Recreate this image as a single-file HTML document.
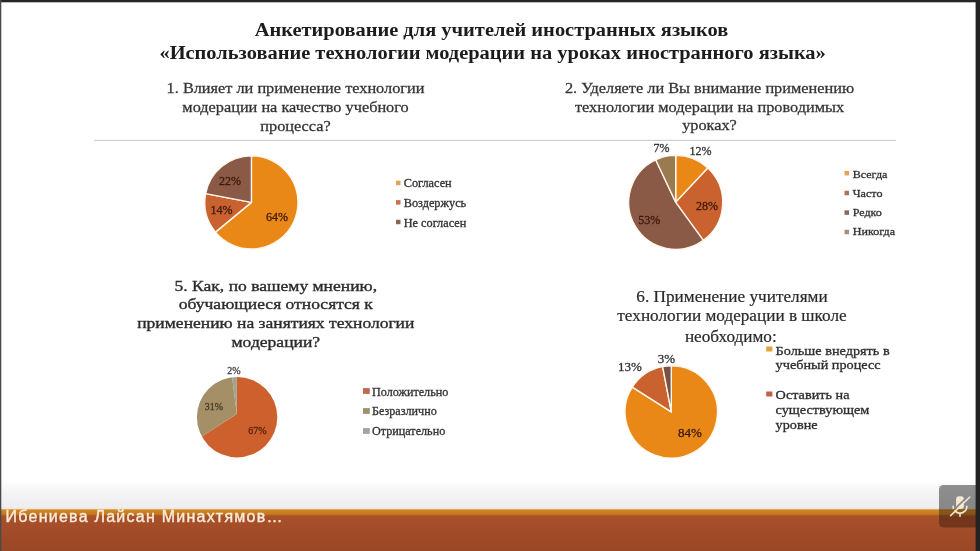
<!DOCTYPE html>
<html lang="ru"><head><meta charset="utf-8"><title>Анкетирование</title>
<style>html,body{margin:0;padding:0;background:#fff;width:980px;height:551px;overflow:hidden}</style>
</head><body>
<svg width="980" height="551" viewBox="0 0 980 551" style="display:block;position:absolute;left:0;top:0">
<rect x="0" y="0" width="980" height="551" fill="#fff"/>
<defs>
<linearGradient id="gg" x1="0" y1="0" x2="0" y2="1"><stop offset="0" stop-color="#ffffff"/><stop offset="0.45" stop-color="#f4f4f5"/><stop offset="1" stop-color="#ecedef"/></linearGradient>
<linearGradient id="gb" x1="0" y1="0" x2="0" y2="1"><stop offset="0" stop-color="#A9502A"/><stop offset="1" stop-color="#994725"/></linearGradient>
</defs>
<rect x="0" y="480" width="980" height="29" fill="url(#gg)"/>
<rect x="0" y="508" width="980" height="1.5" fill="#f6e6cf"/>
<linearGradient id="gs" x1="0" y1="0" x2="0" y2="1"><stop offset="0" stop-color="#D08A2A"/><stop offset="0.6" stop-color="#C67A22"/><stop offset="1" stop-color="#B8661E"/></linearGradient>
<rect x="0" y="509.3" width="980" height="7" fill="url(#gs)"/>
<rect x="0" y="515.5" width="980" height="36" fill="url(#gb)"/>
<rect x="0" y="515.0" width="980" height="1.4" fill="#AE5A22"/>
<text transform="translate(491.5,36.1) scale(1.1049,1)" font-family="'Liberation Serif', serif" font-size="18.5" font-weight="bold" text-anchor="middle" fill="#1c1c1c">Анкетирование для учителей иностранных языков</text>
<text transform="translate(492.6,59.35) scale(1.1049,1)" font-family="'Liberation Serif', serif" font-size="18.5" font-weight="bold" text-anchor="middle" fill="#1c1c1c">«Использование технологии модерации на уроках иностранного языка»</text>
<text transform="translate(295.5,93.4) scale(1.1241379310344828,1)" font-family="'Liberation Serif', serif" font-size="14.5" font-weight="normal" text-anchor="middle" fill="#333" stroke="#333" stroke-width="0.25">1. Влияет ли применение технологии</text>
<text transform="translate(295.5,112.0) scale(1.1241379310344828,1)" font-family="'Liberation Serif', serif" font-size="14.5" font-weight="normal" text-anchor="middle" fill="#333" stroke="#333" stroke-width="0.25">модерации на качество учебного</text>
<text transform="translate(295.5,131.2) scale(1.1241379310344828,1)" font-family="'Liberation Serif', serif" font-size="14.5" font-weight="normal" text-anchor="middle" fill="#333" stroke="#333" stroke-width="0.25">процесса?</text>
<text transform="translate(709.5,92.9) scale(1.0866666666666667,1)" font-family="'Liberation Serif', serif" font-size="15.0" font-weight="normal" text-anchor="middle" fill="#333" stroke="#333" stroke-width="0.25">2. Уделяете ли Вы внимание применению</text>
<text transform="translate(709.5,112.0) scale(1.0866666666666667,1)" font-family="'Liberation Serif', serif" font-size="15.0" font-weight="normal" text-anchor="middle" fill="#333" stroke="#333" stroke-width="0.25">технологии модерации на проводимых</text>
<text transform="translate(709.5,129.5) scale(1.0866666666666667,1)" font-family="'Liberation Serif', serif" font-size="15.0" font-weight="normal" text-anchor="middle" fill="#333" stroke="#333" stroke-width="0.25">уроках?</text>
<rect x="94" y="139.8" width="802" height="1.2" fill="#cfcfcf"/>
<text transform="translate(275.8,291) scale(1.1858,1)" font-family="'Liberation Serif', serif" font-size="14.8" font-weight="normal" text-anchor="middle" fill="#2c2c2c" stroke="#2c2c2c" stroke-width="0.35">5. Как, по вашему мнению,</text>
<text transform="translate(275.8,309.4) scale(1.1858,1)" font-family="'Liberation Serif', serif" font-size="14.8" font-weight="normal" text-anchor="middle" fill="#2c2c2c" stroke="#2c2c2c" stroke-width="0.35">обучающиеся относятся к</text>
<text transform="translate(275.8,327.8) scale(1.1858,1)" font-family="'Liberation Serif', serif" font-size="14.8" font-weight="normal" text-anchor="middle" fill="#2c2c2c" stroke="#2c2c2c" stroke-width="0.35">применению на занятиях технологии</text>
<text transform="translate(275.8,347.3) scale(1.1858,1)" font-family="'Liberation Serif', serif" font-size="14.8" font-weight="normal" text-anchor="middle" fill="#2c2c2c" stroke="#2c2c2c" stroke-width="0.35">модерации?</text>
<text transform="translate(732,301.7) scale(1.075,1)" font-family="'Liberation Serif', serif" font-size="16.0" font-weight="normal" text-anchor="middle" fill="#2a2a2a" stroke="#2a2a2a" stroke-width="0.2">6. Применение учителями</text>
<text transform="translate(732,321.3) scale(1.075,1)" font-family="'Liberation Serif', serif" font-size="16.0" font-weight="normal" text-anchor="middle" fill="#2a2a2a" stroke="#2a2a2a" stroke-width="0.2">технологии модерации в школе</text>
<text transform="translate(730.8,341.5) scale(1.075,1)" font-family="'Liberation Serif', serif" font-size="16.0" font-weight="normal" text-anchor="middle" fill="#2a2a2a" stroke="#2a2a2a" stroke-width="0.2">необходимо:</text>
<path d="M251.40,202.40 L251.40,155.80 A46.6,46.6 0 1 1 215.49,232.10 Z" fill="#E98816" stroke="#fff6ec" stroke-width="1.4" stroke-linejoin="round"/>
<path d="M251.40,202.40 L215.49,232.10 A46.6,46.6 0 0 1 205.63,193.67 Z" fill="#C9622F" stroke="#fff6ec" stroke-width="1.4" stroke-linejoin="round"/>
<path d="M251.40,202.40 L205.63,193.67 A46.6,46.6 0 0 1 251.40,155.80 Z" fill="#8A5A46" stroke="#fff6ec" stroke-width="1.4" stroke-linejoin="round"/>
<path d="M675.70,202.30 L675.70,155.30 A47.0,47.0 0 0 1 707.87,168.04 Z" fill="#E98816" stroke="#fff6ec" stroke-width="1.4" stroke-linejoin="round"/>
<path d="M675.70,202.30 L707.87,168.04 A47.0,47.0 0 0 1 703.33,240.32 Z" fill="#C9622F" stroke="#fff6ec" stroke-width="1.4" stroke-linejoin="round"/>
<path d="M675.70,202.30 L703.33,240.32 A47.0,47.0 0 1 1 655.69,159.77 Z" fill="#8A5A46" stroke="#fff6ec" stroke-width="1.4" stroke-linejoin="round"/>
<path d="M675.70,202.30 L655.69,159.77 A47.0,47.0 0 0 1 675.70,155.30 Z" fill="#9A7A4E" stroke="#fff6ec" stroke-width="1.4" stroke-linejoin="round"/>
<clipPath id="c5"><circle cx="237.1" cy="417.2" r="40.2"/></clipPath>
<g clip-path="url(#c5)"><path d="M236.80,414.00 L236.80,344.00 A70,70 0 1 1 177.93,451.88 Z" fill="#CE602D"/>
<path d="M236.80,414.00 L177.93,451.88 A70,70 0 0 1 228.03,344.55 Z" fill="#A58F67"/>
<path d="M236.80,414.00 L228.03,344.55 A70,70 0 0 1 236.80,344.00 Z" fill="#9EA48E"/></g>
<path d="M671.30,411.90 L671.30,365.70 A46.2,46.2 0 1 1 632.29,387.14 Z" fill="#E98816" stroke="#fff6ec" stroke-width="1.4" stroke-linejoin="round"/>
<path d="M671.30,411.90 L632.29,387.14 A46.2,46.2 0 0 1 662.64,366.52 Z" fill="#C9622F" stroke="#fff6ec" stroke-width="1.4" stroke-linejoin="round"/>
<path d="M671.30,411.90 L662.64,366.52 A46.2,46.2 0 0 1 671.30,365.70 Z" fill="#7A5242" stroke="#fff6ec" stroke-width="1.4" stroke-linejoin="round"/>
<text x="276.9" y="220.9" font-family="'Liberation Serif', serif" font-size="12" font-weight="normal" text-anchor="middle" fill="#3e1a0e" stroke="#3e1a0e" stroke-width="0.3">64%</text>
<text x="221.4" y="213.7" font-family="'Liberation Serif', serif" font-size="12" font-weight="normal" text-anchor="middle" fill="#3e1a0e" stroke="#3e1a0e" stroke-width="0.3">14%</text>
<text x="230" y="185.4" font-family="'Liberation Serif', serif" font-size="12" font-weight="normal" text-anchor="middle" fill="#3e1a0e" stroke="#3e1a0e" stroke-width="0.3">22%</text>
<text x="661.6" y="151.6" font-family="'Liberation Serif', serif" font-size="12" font-weight="normal" text-anchor="middle" fill="#333" stroke="#333" stroke-width="0.3">7%</text>
<text x="700.4" y="154.7" font-family="'Liberation Serif', serif" font-size="12" font-weight="normal" text-anchor="middle" fill="#333" stroke="#333" stroke-width="0.3">12%</text>
<text x="706.9" y="209.8" font-family="'Liberation Serif', serif" font-size="12" font-weight="normal" text-anchor="middle" fill="#3e1a0e" stroke="#3e1a0e" stroke-width="0.3">28%</text>
<text x="649.2" y="223.5" font-family="'Liberation Serif', serif" font-size="12" font-weight="normal" text-anchor="middle" fill="#3e1a0e" stroke="#3e1a0e" stroke-width="0.3">53%</text>
<text x="233.8" y="374.4" font-family="'Liberation Serif', serif" font-size="10" font-weight="normal" text-anchor="middle" fill="#444" stroke="#444" stroke-width="0.3">2%</text>
<text x="213.8" y="409.7" font-family="'Liberation Serif', serif" font-size="10" font-weight="normal" text-anchor="middle" fill="#4a3c26" stroke="#4a3c26" stroke-width="0.3">31%</text>
<text x="257.5" y="433.6" font-family="'Liberation Serif', serif" font-size="10" font-weight="normal" text-anchor="middle" fill="#5a2410" stroke="#5a2410" stroke-width="0.3">67%</text>
<text x="666.4" y="362.8" font-family="'Liberation Serif', serif" font-size="13" font-weight="normal" text-anchor="middle" fill="#333" stroke="#333" stroke-width="0.3">3%</text>
<text x="629.8" y="371.1" font-family="'Liberation Serif', serif" font-size="13" font-weight="normal" text-anchor="middle" fill="#333" stroke="#333" stroke-width="0.3">13%</text>
<text x="689.9" y="436.8" font-family="'Liberation Serif', serif" font-size="13" font-weight="normal" text-anchor="middle" fill="#3e1a0e" stroke="#3e1a0e" stroke-width="0.3">84%</text>
<rect x="396" y="180.65" width="4.5" height="4.5" fill="#E3A356"/>
<text transform="translate(403.7,186.9) scale(1.0638,1)" font-family="'Liberation Serif', serif" font-size="11.56" font-weight="normal" text-anchor="start" fill="#333" stroke="#333" stroke-width="0.3">Согласен</text>
<rect x="396" y="200.15" width="4.5" height="4.5" fill="#C9704A"/>
<text transform="translate(403.7,207.3) scale(1.0638,1)" font-family="'Liberation Serif', serif" font-size="11.56" font-weight="normal" text-anchor="start" fill="#333" stroke="#333" stroke-width="0.3">Воздержусь</text>
<rect x="396" y="219.75" width="4.5" height="4.5" fill="#8A6556"/>
<text transform="translate(403.7,226.9) scale(1.0638,1)" font-family="'Liberation Serif', serif" font-size="11.56" font-weight="normal" text-anchor="start" fill="#333" stroke="#333" stroke-width="0.3">Не согласен</text>
<rect x="844.5" y="170.95" width="4.5" height="4.5" fill="#E3A356"/>
<text transform="translate(852.7,177.8) scale(1.0638,1)" font-family="'Liberation Serif', serif" font-size="11.37" font-weight="normal" text-anchor="start" fill="#333" stroke="#333" stroke-width="0.3">Всегда</text>
<rect x="844.5" y="190.75" width="4.5" height="4.5" fill="#B0705A"/>
<text transform="translate(852.7,196.8) scale(1.0638,1)" font-family="'Liberation Serif', serif" font-size="11.37" font-weight="normal" text-anchor="start" fill="#333" stroke="#333" stroke-width="0.3">Часто</text>
<rect x="844.5" y="210.35" width="4.5" height="4.5" fill="#8A6A60"/>
<text transform="translate(852.7,216.3) scale(1.0638,1)" font-family="'Liberation Serif', serif" font-size="11.37" font-weight="normal" text-anchor="start" fill="#333" stroke="#333" stroke-width="0.3">Редко</text>
<rect x="844.5" y="229.75" width="4.5" height="4.5" fill="#A39080"/>
<text transform="translate(852.7,235.3) scale(1.0638,1)" font-family="'Liberation Serif', serif" font-size="11.37" font-weight="normal" text-anchor="start" fill="#333" stroke="#333" stroke-width="0.3">Никогда</text>
<rect x="363" y="388.1" width="6.8" height="5.8" fill="#C06A4C"/>
<text x="372" y="396.1" font-family="'Liberation Serif', serif" font-size="12.15" font-weight="normal" text-anchor="start" fill="#333" stroke="#333" stroke-width="0.3">Положительно</text>
<rect x="363" y="408.1" width="6.8" height="5.8" fill="#9E926E"/>
<text x="372" y="415.4" font-family="'Liberation Serif', serif" font-size="12.15" font-weight="normal" text-anchor="start" fill="#333" stroke="#333" stroke-width="0.3">Безразлично</text>
<rect x="363" y="428.1" width="6.8" height="5.8" fill="#A4A49A"/>
<text x="372" y="434.6" font-family="'Liberation Serif', serif" font-size="12.15" font-weight="normal" text-anchor="start" fill="#333" stroke="#333" stroke-width="0.3">Отрицательно</text>
<rect x="766.2" y="346.5" width="6.2" height="5" fill="#E3A040"/>
<text transform="translate(775.6,355) scale(1.0766,1)" font-family="'Liberation Serif', serif" font-size="13.25" font-weight="normal" text-anchor="start" fill="#2e2e2e" stroke="#2e2e2e" stroke-width="0.3">Больше внедрять в</text>
<rect x="766.2" y="391.5" width="6.2" height="5" fill="#C4604A"/>
<text transform="translate(775.6,399.3) scale(1.0766,1)" font-family="'Liberation Serif', serif" font-size="13.25" font-weight="normal" text-anchor="start" fill="#2e2e2e" stroke="#2e2e2e" stroke-width="0.3">Оставить на</text>
<text transform="translate(775.6,369) scale(1.0766,1)" font-family="'Liberation Serif', serif" font-size="13.25" font-weight="normal" text-anchor="start" fill="#2e2e2e" stroke="#2e2e2e" stroke-width="0.3">учебный процесс</text>
<text transform="translate(775.6,414.3) scale(1.0766,1)" font-family="'Liberation Serif', serif" font-size="13.25" font-weight="normal" text-anchor="start" fill="#2e2e2e" stroke="#2e2e2e" stroke-width="0.3">существующем</text>
<text transform="translate(775.6,428.9) scale(1.0766,1)" font-family="'Liberation Serif', serif" font-size="13.25" font-weight="normal" text-anchor="start" fill="#2e2e2e" stroke="#2e2e2e" stroke-width="0.3">уровне</text>
<text x="5.5" y="522.4" font-family="'Liberation Sans', sans-serif" font-size="16" font-weight="normal" text-anchor="start" fill="#f8ebd9" stroke="#f8ebd9" stroke-width="0.4" letter-spacing="1.25">Ибениева Лайсан Минахтямов…</text>
<linearGradient id="go" gradientUnits="userSpaceOnUse" x1="0" y1="485" x2="0" y2="527.5"><stop offset="0" stop-color="#000" stop-opacity="0.43"/><stop offset="0.55" stop-color="#000" stop-opacity="0.43"/><stop offset="0.62" stop-color="#000" stop-opacity="0.33"/><stop offset="1" stop-color="#000" stop-opacity="0.30"/></linearGradient>
<path d="M943.5,485 H976 V527.5 H943.5 a4.5,4.5 0 0 1 -4.5,-4.5 V489.5 a4.5,4.5 0 0 1 4.5,-4.5 Z" fill="url(#go)"/>
<mask id="mm" maskUnits="userSpaceOnUse" x="940" y="486" width="36" height="42"><rect x="940" y="486" width="36" height="42" fill="#fff"/><path d="M968.3,495.8 L949.3,514.3" stroke="#000" stroke-width="1.7" stroke-linecap="round"/></mask>
<g mask="url(#mm)" fill="none" stroke="#f6e7d2" stroke-width="1.6" stroke-linecap="round">
<rect x="956.1" y="496.2" width="7.8" height="12.8" rx="3" fill="#f6e7d2" stroke="none"/>
<path d="M953.1,506.3 a6.9,6.9 0 0 0 13.8,0"/>
<path d="M960,513.3 V516.3"/>
</g>
<path d="M969.8,497 L950.6,515.6" stroke="#f6e7d2" stroke-width="1.5" stroke-linecap="round" fill="none"/>
<rect x="0" y="0" width="980" height="2.3" fill="#262626"/>
<rect x="0" y="0" width="1.3" height="551" fill="#4a4a4a"/>
<rect x="975.6" y="0" width="4.4" height="551" fill="#232323"/>
</svg>
</body></html>
